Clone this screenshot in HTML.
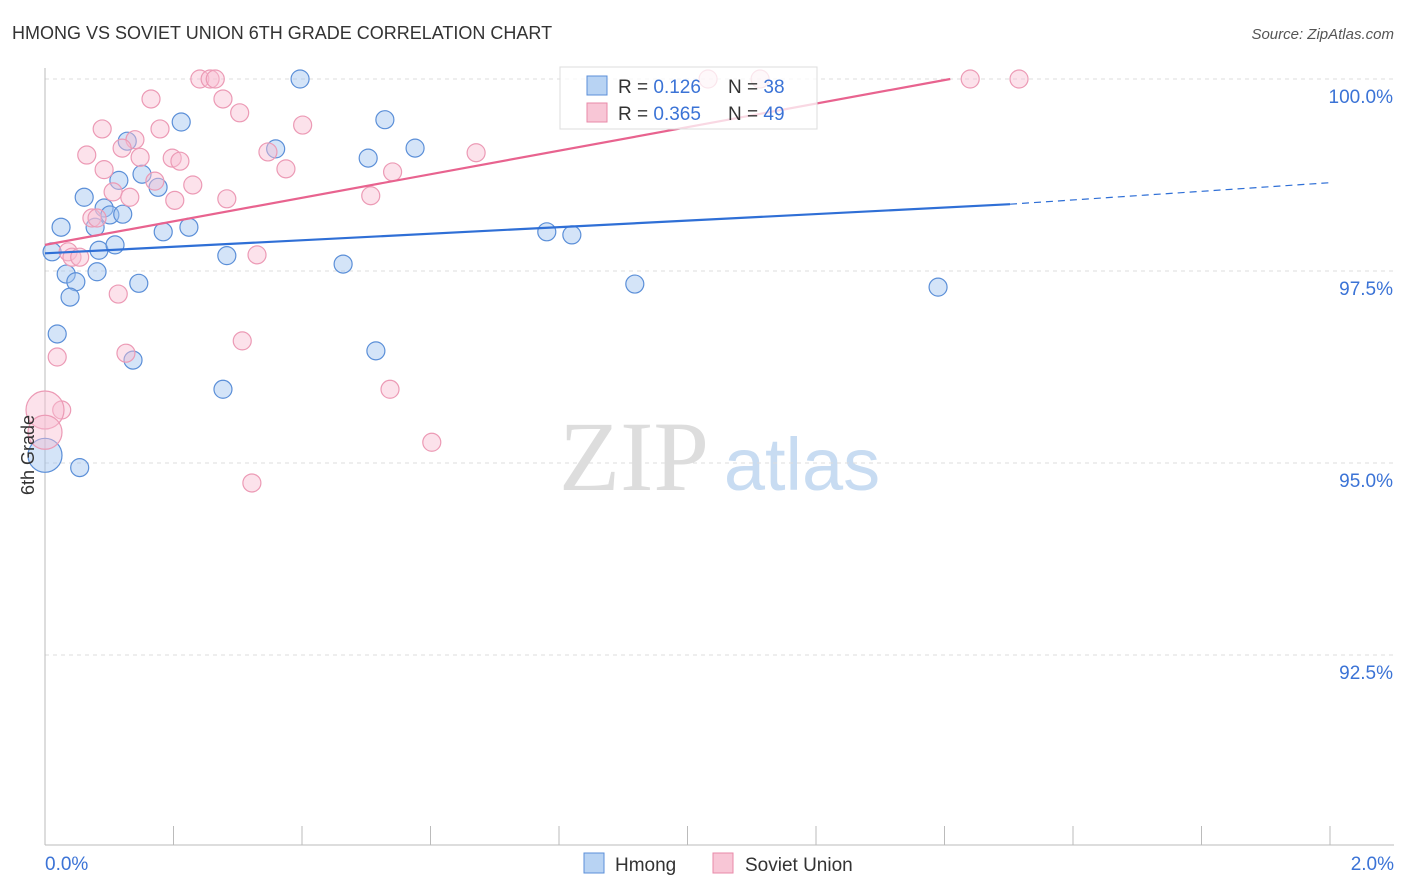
<!DOCTYPE html>
<html><head><meta charset="utf-8"><style>
body{margin:0;background:#fff;font-family:"Liberation Sans",sans-serif}
svg{display:block}
</style></head><body>
<svg id="c" width="1406" height="892">
<text x="12" y="39" font-size="18" fill="#333">HMONG VS SOVIET UNION 6TH GRADE CORRELATION CHART</text>
<text x="1394" y="39" font-size="15" fill="#555" font-style="italic" text-anchor="end">Source: ZipAtlas.com</text>
<text x="634" y="490" font-size="100" fill="#ddd" font-family="Liberation Serif,serif" text-anchor="middle">ZIP</text>
<text x="802" y="490" font-size="74" fill="#c8dcf2" text-anchor="middle">atlas</text>
<g id="grid"></g><g id="marks"></g>
<text transform="translate(34,455) rotate(-90)" font-size="18" fill="#333" text-anchor="middle">6th Grade</text>
<text x="45" y="870" font-size="19" fill="#3b73d6">0.0%</text>
<text x="1394" y="870" font-size="19" fill="#3b73d6" text-anchor="end">2.0%</text>
<g>
<rect x="560" y="67" width="257" height="62" fill="rgba(255,255,255,0.75)" stroke="#ddd"/>
<rect x="587" y="76" width="20" height="19" fill="#b8d3f3" stroke="#5b8fd8"/>
<rect x="587" y="103" width="20" height="19" fill="#f8c6d6" stroke="#e88aa8"/>
<text x="618" y="93" font-size="19" fill="#333">R = <tspan fill="#3b73d6">0.126</tspan></text>
<text x="728" y="93" font-size="19" fill="#333">N = <tspan fill="#3b73d6">38</tspan></text>
<text x="618" y="120" font-size="19" fill="#333">R = <tspan fill="#3b73d6">0.365</tspan></text>
<text x="728" y="120" font-size="19" fill="#333">N = <tspan fill="#3b73d6">49</tspan></text>
</g>
<g>
<rect x="584" y="853" width="20" height="20" fill="#b8d3f3" stroke="#5b8fd8"/>
<text x="615" y="871" font-size="19" fill="#333">Hmong</text>
<rect x="713" y="853" width="20" height="20" fill="#f8c6d6" stroke="#e88aa8"/>
<text x="745" y="871" font-size="19" fill="#333">Soviet Union</text>
</g>
</svg>
<script>
const yTicks=[100,97.5,95,92.5];
const yTickLabels=["100.0%","97.5%","95.0%","92.5%"];
const hmongX=[0.397,0.212,0.529,0.128,0.359,0.576,0.503,0.115,0.151,0.176,0.061,0.092,0.101,0.121,0.025,0.078,0.184,0.224,0.781,0.820,0.011,0.084,0.109,0.283,0.464,0.033,0.081,0.048,0.146,0.039,0.918,1.390,0.019,0.137,0.515,0.277,0.000,0.054];
const hmongY=[100,99.44,99.47,99.19,99.09,99.10,98.97,98.68,98.76,98.59,98.46,98.32,98.23,98.24,98.07,98.07,98.01,98.07,98.01,97.97,97.75,97.77,97.84,97.70,97.59,97.46,97.49,97.36,97.34,97.16,97.33,97.29,96.68,96.34,96.46,95.96,95.10,94.94];
const hmongR=[9,9,9,9,9,9,9,9,9,9,9,9,9,9,9,9,9,9,9,9,9,9,9,9,9,9,9,9,9,9,9,9,9,9,9,9,17,9];
const sovietX=[0.241,0.257,0.265,1.032,1.113,1.440,1.516,0.165,0.277,0.303,0.089,0.179,0.401,0.140,0.065,0.120,0.148,0.347,0.198,0.210,0.671,0.092,0.375,0.541,0.171,0.230,0.106,0.132,0.202,0.283,0.507,0.073,0.081,0.036,0.042,0.054,0.330,0.114,0.019,0.126,0.307,0.537,0.026,0.602,0.322,0.000,0.000];
const sovietY=[100,100,100,100,100,100,100,99.74,99.74,99.56,99.35,99.35,99.40,99.21,99.01,99.10,98.98,99.05,98.97,98.93,99.04,98.82,98.83,98.79,98.67,98.62,98.53,98.46,98.42,98.44,98.48,98.19,98.19,97.75,97.68,97.68,97.71,97.20,96.38,96.43,96.59,95.96,95.69,95.27,94.74,95.69,95.40];
const sovietR=[9,9,9,9,9,9,9,9,9,9,9,9,9,9,9,9,9,9,9,9,9,9,9,9,9,9,9,9,9,9,9,9,9,9,9,9,9,9,9,9,9,9,9,9,9,19,17];
const hmongTrend=[0,97.73,1.502,98.37,2.0,98.65];
const sovietTrend=[0,97.84,1.409,100];
const X=v=>45+v/2*1285, Y=v=>79+(100-v)/2.5*192;
const ns="http://www.w3.org/2000/svg";
const g=document.getElementById('grid'), m=document.getElementById('marks');
function mk(p,tag,a){const e=document.createElementNS(ns,tag);for(const k in a)e.setAttribute(k,a[k]);p.appendChild(e);return e;}
yTicks.forEach((t,i)=>{
 const l=mk(g,'line',{x1:45,x2:1394,y1:Y(t),y2:Y(t),stroke:'#ddd','stroke-dasharray':'4,4'});
 
 
 const tx=mk(g,'text',{x:1393,y:Y(t)+24,'font-size':19,fill:'#3b73d6','text-anchor':'end'});
 tx.textContent=yTickLabels[i];
 
 
});
const ax=mk(g,'line',{x1:45,x2:45,y1:68,y2:845,stroke:'#bbb'});


const bx=mk(g,'line',{x1:45,x2:1394,y1:845,y2:845,stroke:'#bbb'});


for(let i=0;i<=10;i++){const t=mk(g,'line',{x1:X(i*0.2),x2:X(i*0.2),y1:826,y2:845,stroke:'#bbb'});
 
 }
hmongX.forEach((v,i)=>{const c=mk(m,'circle',{cx:X(v),cy:Y(hmongY[i]),r:hmongR[i],fill:'rgba(160,196,240,0.45)',stroke:'#5b8fd8','stroke-width':1.2});
 
 });
sovietX.forEach((v,i)=>{const c=mk(m,'circle',{cx:X(v),cy:Y(sovietY[i]),r:sovietR[i],fill:'rgba(248,190,210,0.45)',stroke:'#ec9ab5','stroke-width':1.2});
 
 });
const h1=mk(m,'line',{x1:X(hmongTrend[0]),y1:Y(hmongTrend[1]),x2:X(hmongTrend[2]),y2:Y(hmongTrend[3]),stroke:'#2f6fd6','stroke-width':2.2});


const h2=mk(m,'line',{x1:X(hmongTrend[2]),y1:Y(hmongTrend[3]),x2:X(hmongTrend[4]),y2:Y(hmongTrend[5]),stroke:'#2f6fd6','stroke-width':1.2,'stroke-dasharray':'7,5'});


const s1=mk(m,'line',{x1:X(sovietTrend[0]),y1:Y(sovietTrend[1]),x2:X(sovietTrend[2]),y2:Y(sovietTrend[3]),stroke:'#e8638f','stroke-width':2.2});


</script>
</body></html>
